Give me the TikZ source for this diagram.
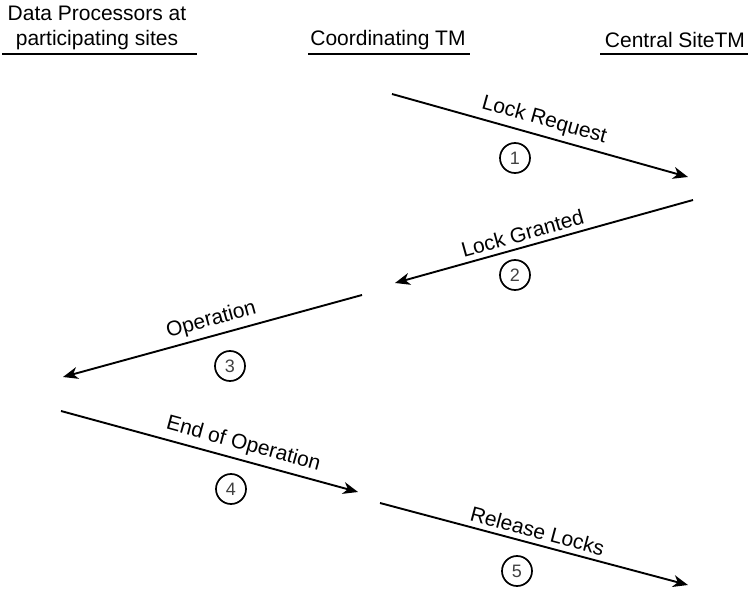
\documentclass[tikz,border=0pt]{standalone}
\usepackage{fontspec}
\setmainfont{Liberation Sans}
\usetikzlibrary{arrows.meta}

\begin{document}
\begin{tikzpicture}[x=1pt,y=-1pt,
    font=\fontsize{21}{25}\selectfont,
    msg/.style={-{Stealth[length=15pt,width=12pt,inset=4.5pt]}, line width=1.9pt},
    lbl/.style={sloped, above=3pt, inner sep=2pt},
    num/.style={circle, draw, line width=1.7pt, minimum size=30pt, inner sep=0pt,
                text=black!75, font=\fontsize{18}{20}\selectfont}]
  \useasboundingbox (0,0) rectangle (748,591);
  % headings
  \node (dps) [align=center] at (97,28) {Data Processors at\\participating sites};
  \node (ctm) at (388,40) {Coordinating TM};
  \node (cst) at (675,40) {Central SiteTM};
  \foreach \a/\b/\n in {2/197/dps,308/470/ctm,600/748/cst} {
    \draw[line width=1.4pt] (\a,54) coordinate (\n-l) -- (\b,54) coordinate (\n-r);
  }
  % messages
  \foreach \i/\sx/\sy/\ex/\ey/\p/\cx/\cy/\txt in {
      1/392/94/688/177/0.5/515/158/Lock Request,
      2/693/200/395/283/0.56/515/275/Lock Granted,
      3/362/295/63/377/0.49/230/366/Operation,
      4/61/411/358/492/0.6/231/489/End of Operation,
      5/380/503/688/585/0.5/517/571/Release Locks} {
    \coordinate (m\i a) at (\sx,\sy);
    \coordinate (m\i b) at (\ex,\ey);
    \draw[msg] (m\i a) -- node[lbl, pos=\p] (l\i) {\txt} (m\i b);
    \node[num] (n\i) at (\cx,\cy) {\i};
  }
\end{tikzpicture}
\end{document}
